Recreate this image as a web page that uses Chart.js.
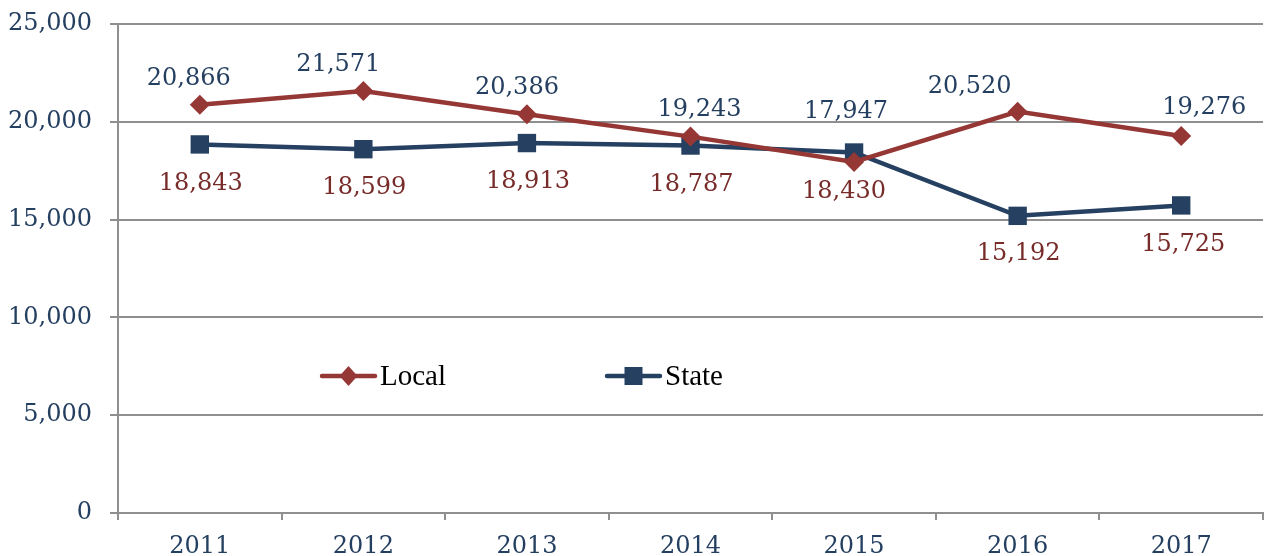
<!DOCTYPE html>
<html>
<head>
<meta charset="utf-8">
<script src="https://cdn.jsdelivr.net/npm/chart.js@4.4.1/dist/chart.umd.min.js"></script>
<style>
  html, body { margin: 0; padding: 0; background: #ffffff; overflow: hidden; }
  #wrap { width: 1265px; height: 556px; position: relative; overflow: hidden; }
  #c { position: absolute; left: 0; top: 0; }
</style>
</head>
<body>
<div id="wrap"><canvas id="c" width="1276" height="556"></canvas></div>
<script>
const years = ['2011', '2012', '2013', '2014', '2015', '2016', '2017'];
const localValues = [20866, 21571, 20386, 19243, 17947, 20520, 19276];
const stateValues = [18843, 18599, 18913, 18787, 18430, 15192, 15725];
const seriesNames = ['Local', 'State'];
const yTicks = [0, 5000, 10000, 15000, 20000, 25000];

// label nudges (pixels), as placed in the original
const localLabelDx = [-11, -25, -10, 9, -8, -48, 23];
const localLabelDy = [-26, -26, -26, -27, -50, -25, -28];
const stateLabelDx = [1, 1, 1, 1, -10, 1, 2];
const stateLabelDy = [39, 39, 39, 39, 39, 38, 39];

const LOCAL_COLOR = '#953735';
const STATE_COLOR = '#254061';
const LABEL_BLUE = '#243F60';
const LABEL_RED = '#772C2A';
const GRID = '#8f8f8f';
const SERIF = '"DejaVu Serif", serif';

const fmt = v => v.toLocaleString('en-US');

const labelPlugin = {
  id: 'pointLabels',
  afterDatasetsDraw(chart) {
    const ctx = chart.ctx;
    ctx.save();
    ctx.font = '24px ' + SERIF;
    ctx.textAlign = 'center';
    ctx.textBaseline = 'middle';
    const m0 = chart.getDatasetMeta(0);
    const m1 = chart.getDatasetMeta(1);
    m0.data.forEach((p, i) => {
      ctx.fillStyle = LABEL_BLUE;
      ctx.fillText(fmt(localValues[i]), p.x + localLabelDx[i], p.y + localLabelDy[i]);
    });
    m1.data.forEach((p, i) => {
      ctx.fillStyle = LABEL_RED;
      ctx.fillText(fmt(stateValues[i]), p.x + stateLabelDx[i], p.y + stateLabelDy[i]);
    });
    ctx.restore();
  }
};

const legendPlugin = {
  id: 'innerLegend',
  afterDatasetsDraw(chart) {
    const ctx = chart.ctx;
    const a = chart.chartArea;
    const y = a.top + 352;
    const items = [
      { x: a.left + 204, color: LOCAL_COLOR, style: 'diamond', text: seriesNames[0] },
      { x: a.left + 489, color: STATE_COLOR, style: 'square', text: seriesNames[1] }
    ];
    ctx.save();
    items.forEach(it => {
      ctx.strokeStyle = it.color;
      ctx.lineWidth = 4.5;
      ctx.lineCap = 'round';
      ctx.beginPath();
      ctx.moveTo(it.x, y);
      ctx.lineTo(it.x + 53, y);
      ctx.stroke();
      ctx.fillStyle = it.color;
      const cx = it.x + 26.5;
      ctx.beginPath();
      if (it.style === 'diamond') {
        ctx.moveTo(cx, y - 10); ctx.lineTo(cx + 9, y); ctx.lineTo(cx, y + 10); ctx.lineTo(cx - 9, y);
        ctx.closePath();
      } else {
        ctx.rect(cx - 9, y - 9, 18, 18);
      }
      ctx.fill();
      ctx.fillStyle = '#000000';
      ctx.font = '29px "Liberation Serif", serif';
      ctx.textAlign = 'left';
      ctx.textBaseline = 'middle';
      ctx.fillText(it.text, it.x + 58, y + 1);
    });
    ctx.restore();
  }
};

new Chart(document.getElementById('c'), {
  type: 'line',
  data: {
    labels: years,
    datasets: [
      {
        label: seriesNames[0],
        data: localValues,
        borderColor: LOCAL_COLOR,
        backgroundColor: LOCAL_COLOR,
        borderWidth: 4.5,
        pointStyle: 'rectRot',
        pointRadius: 10,
        pointBorderWidth: 0,
        tension: 0
      },
      {
        label: seriesNames[1],
        data: stateValues,
        borderColor: STATE_COLOR,
        backgroundColor: STATE_COLOR,
        borderWidth: 4.5,
        pointStyle: 'rect',
        pointRadius: 13,
        pointBorderWidth: 0,
        tension: 0
      }
    ]
  },
  options: {
    responsive: false,
    animation: false,
    devicePixelRatio: 1,
    layout: { padding: { top: 24, right: 1, left: 0, bottom: 0 } },
    plugins: {
      legend: { display: false },
      tooltip: { enabled: false }
    },
    scales: {
      x: {
        offset: true,
        grid: {
          offset: true,
          drawOnChartArea: false,
          drawTicks: true,
          tickLength: 7,
          color: GRID,
          lineWidth: 2
        },
        border: { color: GRID, width: 2 },
        ticks: {
          color: LABEL_BLUE,
          font: { family: SERIF, size: 24 },
          padding: 12,
          maxRotation: 0
        },
        afterFit(s) { s.height = 43; s.paddingLeft = 0; s.paddingRight = 0; }
      },
      y: {
        min: 0,
        max: 25000,
        afterBuildTicks(s) { s.ticks = yTicks.map(v => ({ value: v })); },
        grid: {
          color: GRID,
          lineWidth: 2,
          tickLength: 8
        },
        border: { color: GRID, width: 2 },
        ticks: {
          color: LABEL_BLUE,
          font: { family: SERIF, size: 24 },
          padding: 18,
          callback: v => fmt(v)
        },
        afterFit(s) { s.width = 118; s.paddingTop = 0; s.paddingBottom = 0; }
      }
    }
  },
  plugins: [labelPlugin, legendPlugin]
});
</script>
</body>
</html>
